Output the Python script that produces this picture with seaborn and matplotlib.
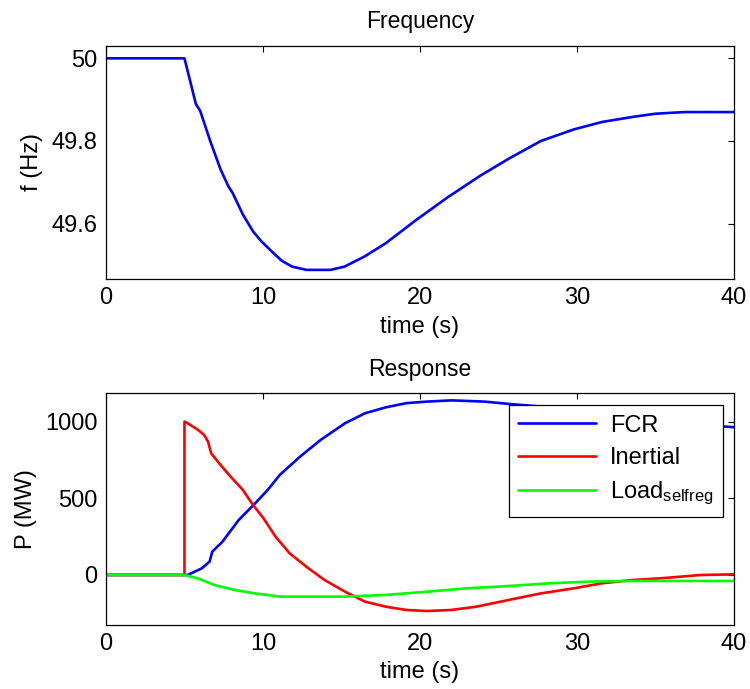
import numpy as np
import matplotlib
matplotlib.use("Agg")
import matplotlib.pyplot as plt
from matplotlib.ticker import FuncFormatter
import seaborn as sns

# Frequency trace (s, Hz)
t_freq = [0, 5.0, 5.73, 6.0, 6.64, 7.3, 7.8, 8.07, 8.72, 9.37, 9.9, 10.55, 11.2, 11.85,
          12.76, 14.3, 15.2, 16.5, 17.84, 19.66, 21.7, 23.8, 25.65, 27.7, 29.8, 31.6,
          33.5, 35.0, 36.85, 40]
freq = [50.0, 50.0, 49.889, 49.873, 49.80, 49.731, 49.690, 49.674, 49.622, 49.581, 49.557,
        49.533, 49.510, 49.496, 49.488, 49.488, 49.496, 49.521, 49.553, 49.606, 49.662,
        49.715, 49.757, 49.80, 49.828, 49.846, 49.858, 49.866, 49.870, 49.870]

# FCR response (s, MW)
t_fcr = [0, 5.0, 5.2, 6.1, 6.6, 6.77, 7.42, 8.46, 9.5, 10.3, 11.07, 12.37, 13.67, 15.23,
         16.5, 17.84, 19.14, 20.44, 22.0, 24.1, 25.65, 28, 30, 32, 34, 36, 38, 40]
fcr = [0, 0, 0, 43, 87, 152, 217, 359, 467, 554, 652, 772, 880, 989, 1054, 1093, 1120,
       1130, 1138, 1130, 1115, 1095, 1070, 1045, 1020, 998, 978, 963]

# Inertial response (s, MW)
t_inert = [0, 5.0, 5.0, 5.2, 5.86, 6.25, 6.5, 6.7, 7.3, 7.94, 8.72, 9.37, 10.03, 10.8, 11.7,
           12.9, 13.93, 15.23, 16.5, 17.84, 19.14, 20.44, 22.0, 23.57, 25.65, 27.7, 29.8,
           31.6, 33.5, 35.3, 36.6, 37.9, 40]
inertial = [0, 0, 1000, 989, 946, 913, 870, 793, 717, 641, 554, 456, 370, 250, 141, 43, -33,
            -109, -174, -207, -228, -235, -228, -207, -163, -120, -87, -54, -33, -22, -11,
            0, 4]

# Load self-regulation (s, MW)
t_load = [0, 5.0, 5.86, 6.9, 8.2, 9.5, 11.07, 15.23, 17.84, 20.44, 23.0, 25.65, 28.3, 30.9,
          33.5, 36.1, 40]
load = [0, 0, -22, -65, -98, -120, -141, -141, -130, -109, -87, -72, -54, -43, -39, -39, -39]

sns.set_style("white")
plt.rcParams['font.family'] = ['Liberation Sans', 'DejaVu Sans']
plt.rcParams['mathtext.default'] = 'regular'
plt.rcParams['font.size'] = 17
plt.rcParams['text.color'] = 'black'
plt.rcParams['axes.labelcolor'] = 'black'

fig = plt.figure(figsize=(7.5, 6.89), dpi=100)
ax1 = fig.add_axes([0.1413, 0.5951, 0.8373, 0.3382])
ax2 = fig.add_axes([0.1413, 0.0929, 0.8373, 0.3367])

lw = 1.9
sns.lineplot(x=t_freq, y=freq, color='#0000ff', linewidth=lw, estimator=None, sort=False, ax=ax1)
sns.lineplot(x=t_fcr, y=fcr, color='#0000ff', linewidth=lw, estimator=None, sort=False,
             label='FCR', ax=ax2)
sns.lineplot(x=t_inert, y=inertial, color='#ff0000', linewidth=lw, estimator=None, sort=False,
             label='Inertial', ax=ax2)
sns.lineplot(x=t_load, y=load, color='#00ff00', linewidth=lw, estimator=None, sort=False,
             label='Load$_{selfreg}$', ax=ax2)

ax1.set_xlim(0, 40)
ax1.set_ylim(49.466, 50.03)
ax1.set_xticks([0, 10, 20, 30, 40])
ax1.set_yticks([49.6, 49.8, 50.0])
ax1.yaxis.set_major_formatter(FuncFormatter(lambda v, p: '%g' % round(v, 2)))
ax1.set_title('Frequency', fontsize=16.5, pad=13)
ax1.set_xlabel('time (s)', fontsize=17, labelpad=5)
ax1.set_ylabel('f (Hz)', fontsize=17, labelpad=6)

ax2.set_xlim(0, 40)
ax2.set_ylim(-326, 1186)
ax2.set_xticks([0, 10, 20, 30, 40])
ax2.set_yticks([0, 500, 1000])
ax2.set_title('Response', fontsize=16.5, pad=12)
ax2.set_xlabel('time (s)', fontsize=17, labelpad=4)
ax2.set_ylabel('P (MW)', fontsize=17, labelpad=6)

for ax in (ax1, ax2):
    ax.tick_params(direction='in', length=4, width=0.8, top=True, right=True,
                   labelsize=17, pad=6, colors='black')
    for s in ax.spines.values():
        s.set_linewidth(0.9)
        s.set_color('black')

leg = ax2.legend(loc='upper right', bbox_to_anchor=(0.9825, 0.948), fontsize=17,
                 frameon=True, fancybox=False, edgecolor='black', framealpha=1,
                 handlelength=3.3, handletextpad=0.6, borderpad=0.4, labelspacing=0.45,
                 borderaxespad=0)
leg.get_frame().set_linewidth(0.9)

fig.savefig('out.png', dpi=100)
